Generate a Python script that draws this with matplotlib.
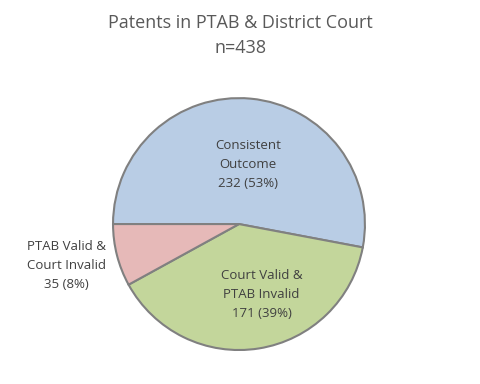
import matplotlib
matplotlib.use('Agg')
import matplotlib.pyplot as plt

TITLE   = 'Patents in PTAB & District Court\nn=438'
LABELS  = ['Consistent\nOutcome', 'Court Valid &\nPTAB Invalid', 'PTAB Valid &\nCourt Invalid']
COUNTS  = [232, 171, 35]
PCTS    = [53, 39, 8]
COLORS  = ['#B9CDE5', '#C3D69B', '#E6B9B8']

# label anchor (data coords, pie radius = 1)
LABEL_XY = [(0.07, 0.47), (0.18, -0.56), (-1.37, -0.33)]

plt.rcParams['font.family'] = ['Open Sans', 'DejaVu Sans']

fig = plt.figure(figsize=(4.8, 3.84), dpi=100)
ax = fig.add_axes([0.2354, 0.0885, 0.525, 0.656])

ax.pie(COUNTS, colors=COLORS, startangle=180, counterclock=False,
       wedgeprops=dict(edgecolor='#808080', linewidth=1.5))
ax.set_xlim(-1, 1)
ax.set_ylim(-1, 1)
ax.set_aspect('equal')

for lab, n, p, (x, y) in zip(LABELS, COUNTS, PCTS, LABEL_XY):
    ax.text(x, y, f'{lab}\n{n} ({p}%)', ha='center', va='center',
            fontsize=9.5, color='#404040', linespacing=1.6)

fig.text(0.5, 0.907, TITLE, ha='center', va='center', fontsize=13,
         color='#595959', linespacing=1.5)

fig.savefig('out.png', dpi=100)
